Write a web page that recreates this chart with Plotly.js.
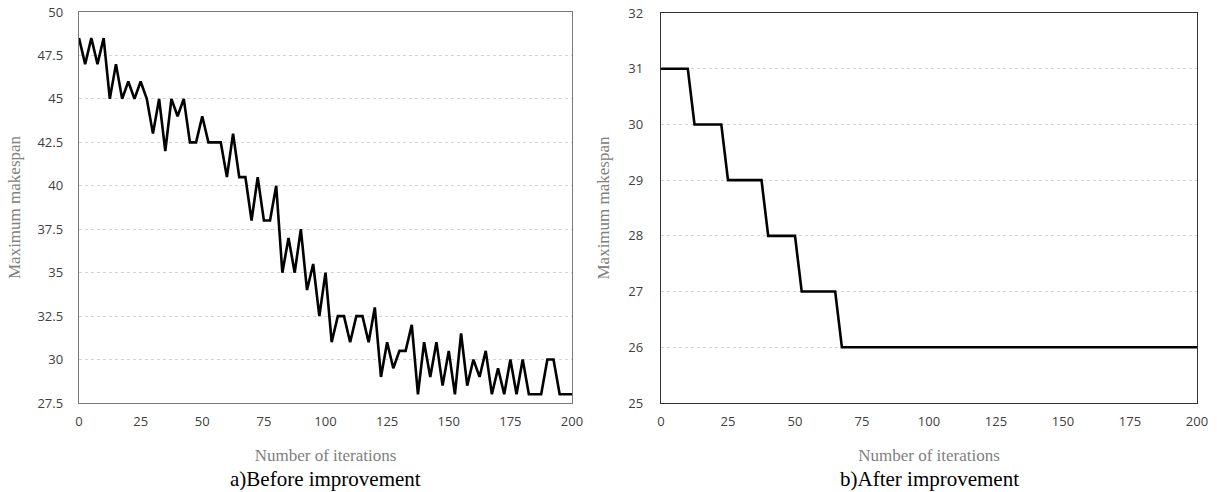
<!DOCTYPE html>
<html>
<head>
<meta charset="utf-8">
<script src="https://cdn.plot.ly/plotly-3.0.1.min.js"></script>
<style>html,body{margin:0;padding:0;background:#fff;}#chart{width:1217px;height:492px;}</style>
</head>
<body>
<div id="chart"></div>
<script>
// Iterations (step 2.5 from 0 to 200)
const iterations = [0,2.5,5,7.5,10,12.5,15,17.5,20,22.5,25,27.5,30,32.5,35,37.5,40,42.5,45,47.5,50,52.5,55,57.5,60,62.5,65,67.5,70,72.5,75,77.5,80,82.5,85,87.5,90,92.5,95,97.5,100,102.5,105,107.5,110,112.5,115,117.5,120,122.5,125,127.5,130,132.5,135,137.5,140,142.5,145,147.5,150,152.5,155,157.5,160,162.5,165,167.5,170,172.5,175,177.5,180,182.5,185,187.5,190,192.5,195,197.5,200];

// a) Before improvement
const makespanBefore = [48.5,47,48.5,47,48.5,45,47,45,46,45,46,45,43,45,42,45,44,45,42.5,42.5,44,42.5,42.5,42.5,40.5,43,40.5,40.5,38,40.5,38,38,40,35,37,35,37.5,34,35.5,32.5,35,31,32.5,32.5,31,32.5,32.5,31,33,29,31,29.5,30.5,30.5,32,28,31,29,31,28.5,30.5,28,31.5,28.5,30,29,30.5,28,29.5,28,30,28,30,28,28,28,30,30,28,28,28];

// b) After improvement
const makespanAfter = [31,31,31,31,31,30,30,30,30,30,29,29,29,29,29,29,28,28,28,28,28,27,27,27,27,27,27,26,26,26,26,26,26,26,26,26,26,26,26,26,26,26,26,26,26,26,26,26,26,26,26,26,26,26,26,26,26,26,26,26,26,26,26,26,26,26,26,26,26,26,26,26,26,26,26,26,26,26,26,26,26];

const xTicks = [0,25,50,75,100,125,150,175,200];
const yTicksBefore = [27.5,30,32.5,35,37.5,40,42.5,45,47.5,50];
const yTicksAfter = [25,26,27,28,29,30,31,32];

const xTitle = 'Number of iterations';
const yTitle = 'Maximum makespan';
const captionA = 'a)Before improvement';
const captionB = 'b)After improvement';

const tickFont = {family: 'Open Sans, Liberation Sans, sans-serif', size: 13, color: '#404040'};
const titleFont = {family: 'Liberation Serif, serif', size: 17, color: '#808080'};

const traces = [
  {x: iterations, y: makespanBefore, type: 'scatter', mode: 'lines', line: {color: '#000', width: 2.6}, xaxis: 'x', yaxis: 'y', hoverinfo: 'none'},
  {x: iterations, y: makespanAfter, type: 'scatter', mode: 'lines', line: {color: '#000', width: 2.6}, xaxis: 'x2', yaxis: 'y2', hoverinfo: 'none'}
];

const W = 1217, H = 492;
function xd(a, b) { return [a / W, b / W]; }
function yd(top, bot) { return [1 - bot / H, 1 - top / H]; }

const commonX = {
  range: [0, 200], tickvals: xTicks, ticktext: xTicks.map(String),
  ticks: '', showgrid: false, zeroline: false, showline: true, mirror: true,
  tickfont: tickFont, ticklabelstandoff: 6,
  title: {text: xTitle, font: titleFont, standoff: 20}
};

const layout = {
  width: W, height: H,
  margin: {l: 0, r: 0, t: 0, b: 0},
  paper_bgcolor: '#fff', plot_bgcolor: '#fff',
  showlegend: false,
  xaxis: Object.assign({}, commonX, {domain: xd(79, 572), anchor: 'y', linecolor: '#7a7a7a', linewidth: 1.3}),
  yaxis: {
    domain: yd(12, 403), anchor: 'x', range: [27.5, 50], tickvals: yTicksBefore,
    ticktext: yTicksBefore.map(String), ticks: '', showline: true, mirror: true,
    linecolor: '#7a7a7a', linewidth: 1.3, zeroline: false,
    showgrid: true, gridcolor: '#d4d4d4', griddash: 'dot', gridwidth: 1,
    tickfont: tickFont, ticklabelstandoff: 12,
    title: {text: yTitle, font: titleFont, standoff: 12}
  },
  xaxis2: Object.assign({}, commonX, {domain: xd(661, 1197), anchor: 'y2', linecolor: '#333', linewidth: 1.3}),
  yaxis2: {
    domain: yd(13, 403), anchor: 'x2', range: [25, 32], tickvals: yTicksAfter,
    ticktext: yTicksAfter.map(String), ticks: '', showline: true, mirror: true,
    linecolor: '#333', linewidth: 1.3, zeroline: false,
    showgrid: true, gridcolor: '#d4d4d4', griddash: 'dot', gridwidth: 1,
    tickfont: tickFont, ticklabelstandoff: 14,
    title: {text: yTitle, font: titleFont, standoff: 14}
  },
  annotations: [
    {text: captionA, xref: 'paper', yref: 'paper', x: (79 + 572) / 2 / W, y: 1 - 479 / H, xanchor: 'center', yanchor: 'middle', showarrow: false, font: {family: 'Liberation Serif, serif', size: 21, color: '#000'}},
    {text: captionB, xref: 'paper', yref: 'paper', x: (661 + 1197) / 2 / W, y: 1 - 479 / H, xanchor: 'center', yanchor: 'middle', showarrow: false, font: {family: 'Liberation Serif, serif', size: 21, color: '#000'}}
  ]
};

Plotly.newPlot('chart', traces, layout, {staticPlot: true, displayModeBar: false});
</script>
</body>
</html>
